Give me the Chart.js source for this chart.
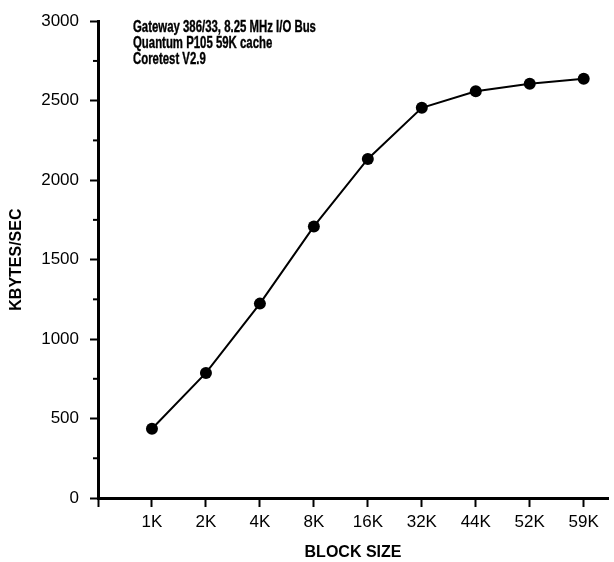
<!DOCTYPE html>
<html><head><meta charset="utf-8">
<script src="https://cdn.jsdelivr.net/npm/chart.js@4"></script>
<style>html,body{margin:0;padding:0;background:#fff}#wrap{width:614px;height:562px;position:relative}</style>
</head><body><div id="wrap"><canvas id="c"></canvas></div>
<script>
const categories = ['1K','2K','4K','8K','16K','32K','44K','52K','59K'];
const kbytesPerSec = [436, 787, 1223, 1709, 2133, 2455, 2559, 2607, 2638];
const yTicks = [0, 500, 1000, 1500, 2000, 2500, 3000];
const yMinorTicks = [250, 750, 1250, 1750, 2250, 2750];
const noteLines = ['Gateway 386/33, 8.25 MHz I/O Bus', 'Quantum P105 59K cache', 'Coretest V2.9'];
const xTitle = 'BLOCK SIZE';
const yTitle = 'KBYTES/SEC';

const boldFam = "'Liberation Sans', Arial, sans-serif";
const regular = "'Liberation Sans', Arial, sans-serif";

const extras = {
  id: 'extras',
  afterDraw(chart) {
    const ctx = chart.ctx;
    const y = chart.scales.y;
    const area = chart.chartArea;
    ctx.save();
    ctx.strokeStyle = '#000';
    ctx.lineWidth = 2;
    yMinorTicks.forEach(v => {
      const py = y.getPixelForValue(v);
      ctx.beginPath();
      ctx.moveTo(area.left - 5, py);
      ctx.lineTo(area.left, py);
      ctx.stroke();
    });
    ctx.fillStyle = '#000';
    ctx.font = 'bold 17px ' + boldFam;
    ctx.textBaseline = 'top';
    ctx.textAlign = 'left';
    ctx.translate(133, 0);
    ctx.scale(0.67, 1);
    ctx.lineWidth = 0.4;
    noteLines.forEach((t, i) => {
      ctx.fillText(t, 0, 19 + i * 16);
      ctx.strokeText(t, 0, 19 + i * 16);
    });
    ctx.restore();
  }
};

new Chart(document.getElementById('c'), {
  type: 'line',
  data: {
    datasets: [{
      data: kbytesPerSec.map((v, i) => ({ x: i + 1, y: v })),
      borderColor: '#000',
      borderWidth: 2,
      pointRadius: 6,
      pointHoverRadius: 6,
      pointBackgroundColor: '#000',
      pointBorderColor: '#000',
      pointBorderWidth: 0,
      tension: 0,
      fill: false
    }]
  },
  options: {
    responsive: true,
    maintainAspectRatio: false,
    animation: false,
    events: [],
    layout: { padding: { top: 19, right: 0, left: 0, bottom: 0 } },
    plugins: { legend: { display: false }, tooltip: { enabled: false } },
    scales: {
      x: {
        type: 'linear',
        min: 0,
        max: 9.45,
        afterBuildTicks: s => { s.ticks = [0,1,2,3,4,5,6,7,8,9].map(v => ({ value: v })); },
        afterFit: s => { s.height = 64; },
        ticks: {
          autoSkip: false,
          maxRotation: 0,
          color: '#000',
          padding: 5,
          font: { family: regular, size: 17 },
          callback: v => (v >= 1 ? categories[v - 1] : '')
        },
        grid: { drawOnChartArea: false, drawTicks: true, tickLength: 9, color: '#000', tickWidth: 2 },
        border: { display: true, color: '#000', width: 3 },
        title: { display: true, text: xTitle, color: '#000', font: { family: boldFam, size: 16, weight: 'bold' }, padding: 0 }
      },
      y: {
        min: 0,
        max: 3000,
        afterBuildTicks: s => { s.ticks = yTicks.map(v => ({ value: v })); },
        afterFit: s => { s.width = 98; },
        ticks: { color: '#000', padding: 11, font: { family: regular, size: 17 }, callback: v => String(v) },
        grid: { drawOnChartArea: false, drawTicks: true, tickLength: 8, color: '#000', tickWidth: 2 },
        border: { display: true, color: '#000', width: 3 },
        title: { display: true, text: yTitle, color: '#000', font: { family: boldFam, size: 16, weight: 'bold' }, padding: { top: 7, bottom: 0 } }
      }
    }
  },
  plugins: [extras]
});
</script>
</body></html>
